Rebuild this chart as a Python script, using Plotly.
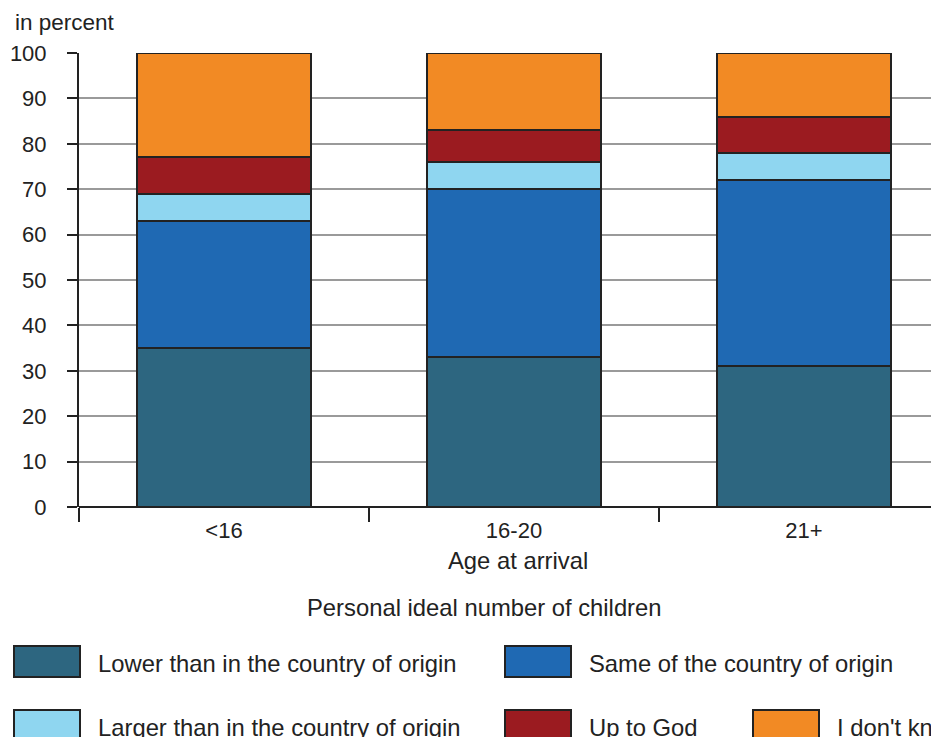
import plotly.graph_objects as go

categories = ["<16", "16-20", "21+"]
series_names = [
    "Lower than in the country of origin",
    "Same of the country of origin",
    "Larger than in the country of origin",
    "Up to God",
    "I don't know",
]
lower = [35, 33, 31]
same = [28, 37, 41]
larger = [6, 6, 6]
god = [8, 7, 8]
dont_know = [23, 17, 14]
series_values = [lower, same, larger, god, dont_know]
colors = ["#2d6680", "#1f69b3", "#8fd6f0", "#9b1b20", "#f28a24"]
y_ticks = list(range(0, 101, 10))

OFF = 8  # page body margin in the browser
W, H = 939 - OFF, 737 - OFF
L, R, T, B = 79 - OFF, 0, 53 - OFF, 737 - 507
PW, PH = W - L - R, H - T - B

def px(x):
    return (x - OFF - L) / PW

def py(y):
    return (H - B - (y - OFF)) / PH

FONT = "Liberation Sans, Arial, sans-serif"
TXT = "#222222"
LBL = 23.8
TCK = 22

fig = go.Figure()
for name, vals, col in zip(series_names, series_values, colors):
    fig.add_trace(go.Bar(
        x=categories, y=vals, name=name, width=0.6,
        marker=dict(color=col, line=dict(color="#222222", width=2)),
        showlegend=False,
    ))

annotations = [
    dict(text="in percent", x=px(13), y=py(22), xref="paper", yref="paper",
         xanchor="left", yanchor="middle", showarrow=False, font=dict(size=22.5, color=TXT, family=FONT)),
    dict(text="Age at arrival", x=px(518), y=py(560), xref="paper", yref="paper",
         xanchor="center", yanchor="middle", showarrow=False, font=dict(size=LBL, color=TXT, family=FONT)),
    dict(text="Personal ideal number of children", x=px(484), y=py(607), xref="paper", yref="paper",
         xanchor="center", yanchor="middle", showarrow=False, font=dict(size=LBL, color=TXT, family=FONT)),
]
shapes = []
legend_pos = [(14, 646), (505, 646), (14, 710), (505, 710), (753, 710)]
for (lx, ly), name, col in zip(legend_pos, series_names, colors):
    shapes.append(dict(type="rect", xref="paper", yref="paper",
                       x0=px(lx), x1=px(lx + 66), y0=py(ly), y1=py(ly + 31),
                       fillcolor=col, line=dict(color="#222222", width=2)))
    annotations.append(dict(text=name, x=px(lx + 82), y=py(ly + 17), xref="paper", yref="paper",
                            xanchor="left", yanchor="middle", showarrow=False,
                            font=dict(size=LBL, color=TXT, family=FONT)))

fig.update_layout(
    width=W, height=H, barmode="stack",
    margin=dict(l=L, r=R, t=T, b=B, autoexpand=False),
    paper_bgcolor="white", plot_bgcolor="white",
    font=dict(family=FONT, size=TCK, color=TXT),
    annotations=annotations, shapes=shapes,
    bargap=0.4,
)
fig.update_xaxes(
    range=[-0.5, 2.5 - 10 / 290], showgrid=False, showline=False,
    ticks="outside", tickson="boundaries", ticklen=14, tickwidth=2, tickcolor="#222222",
    ticklabelstandoff=8,
    tickfont=dict(size=TCK, color=TXT, family=FONT), zeroline=False,
)
fig.update_yaxes(
    range=[0, 100], tickvals=y_ticks, showgrid=True, gridcolor="#9a9a9a", gridwidth=1.5,
    showline=True, linecolor="#222222", linewidth=2,
    ticks="outside", ticklen=10, tickwidth=2, tickcolor="#222222",
    ticklabelstandoff=16,
    zeroline=True, zerolinecolor="#222222", zerolinewidth=2,
    tickfont=dict(size=TCK, color=TXT, family=FONT),
)
fig.write_html("out.html")
